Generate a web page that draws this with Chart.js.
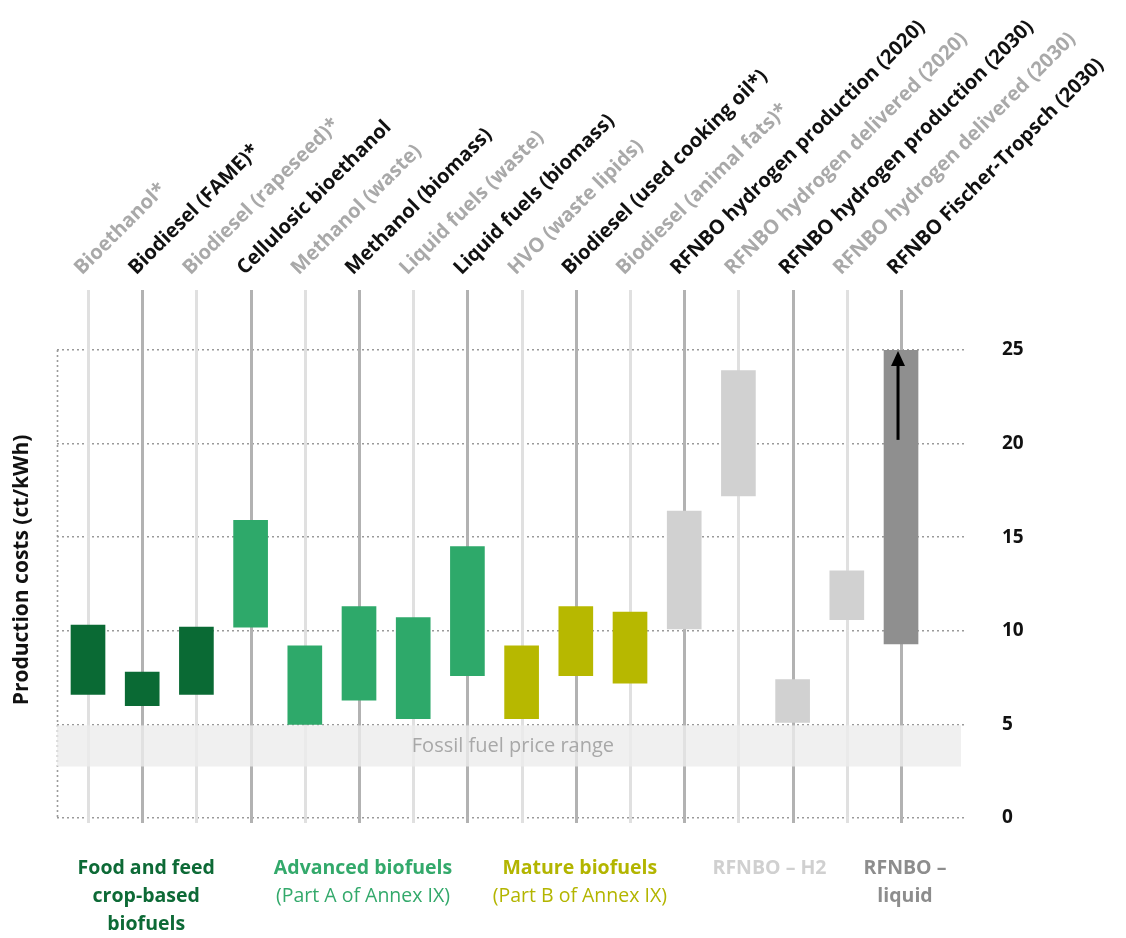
<!DOCTYPE html>
<html>
<head>
<meta charset="utf-8">
<script src="https://cdn.jsdelivr.net/npm/chart.js@4.4.1/dist/chart.umd.min.js"></script>
<style>
  html, body { margin: 0; padding: 0; background: #ffffff; }
  #wrap { width: 1126px; height: 938px; }
</style>
</head>
<body>
<div id="wrap"><canvas id="costs" width="1126" height="938"></canvas></div>
<script>
// Fuel pathways, one column each
const categories = [
  'Bioethanol*',
  'Biodiesel (FAME)*',
  'Biodiesel (rapeseed)*',
  'Cellulosic bioethanol',
  'Methanol (waste)',
  'Methanol (biomass)',
  'Liquid fuels (waste)',
  'Liquid fuels (biomass)',
  'HVO (waste lipids)',
  'Biodiesel (used cooking oil*)',
  'Biodiesel (animal fats)*',
  'RFNBO hydrogen production (2020)',
  'RFNBO hydrogen delivered (2020)',
  'RFNBO hydrogen production (2030)',
  'RFNBO hydrogen delivered (2030)',
  'RFNBO Fischer-Tropsch (2030)'
];

// Production cost ranges, ct/kWh
const lowCost  = [6.6, 6.0, 6.6, 10.2, 5.0, 6.3, 5.3, 7.6, 5.3, 7.6, 7.2, 10.1, 17.2, 5.1, 10.6, 9.3];
const highCost = [10.3, 7.8, 10.2, 15.9, 9.2, 11.3, 10.7, 14.5, 9.2, 11.3, 11.0, 16.4, 23.9, 7.4, 13.2, 25.0];

// Which fuel group each pathway belongs to
const groupOf = [0, 0, 0, 1, 1, 1, 1, 1, 2, 2, 2, 3, 3, 3, 3, 4];

// Pathway names printed in black (the others are grey)
const emphasised = [false, true, false, true, false, true, false, true, false, true, false, true, false, true, false, true];

// Fuel groups
const groupTitles = [
  ['Food and feed', 'crop-based', 'biofuels'],
  ['Advanced biofuels', '(Part A of Annex IX)'],
  ['Mature biofuels', '(Part B of Annex IX)'],
  ['RFNBO – H2'],
  ['RFNBO –', 'liquid']
];
const groupTitleBold = [
  [true, true, true],
  [true, false],
  [true, false],
  [true],
  [true, true]
];
const groupBarColors  = ['#0a6a34', '#2ea96a', '#b7b800', '#d1d1d1', '#8f8f8f'];
const groupTextColors = ['#0d6a36', '#33a96b', '#b3b500', '#d0d0d0', '#8d8d8d'];

// Value axis
const yTicks = [0, 5, 10, 15, 20, 25];
const yTitle = 'Production costs (ct/kWh)';

// Fossil fuel price range, ct/kWh
const fossilRange = [2.75, 5];
const fossilLabel = 'Fossil fuel price range';

// Upward arrow inside the Fischer-Tropsch bar (from, to), ct/kWh
const ftArrow = [20.2, 25];

const FONT = "'Open Sans', 'DejaVu Sans', sans-serif";

const points = categories.map((_, i) => ({ x: i, y: [lowCost[i], highCost[i]] }));

const backdrop = {
  id: 'backdrop',
  beforeDatasetsDraw(chart) {
    const { ctx, chartArea: a, scales: { x, y } } = chart;
    ctx.save();
    // pathway guide lines
    categories.forEach((_, i) => {
      const px = Math.round(x.getPixelForValue(i)) + 0.5;
      ctx.beginPath();
      ctx.moveTo(px, a.top - 60);
      ctx.lineTo(px, a.bottom + 5);
      ctx.lineWidth = 3;
      ctx.strokeStyle = emphasised[i] ? '#b2b2b2' : '#e0e0e0';
      ctx.stroke();
    });
    // left dotted frame line
    ctx.beginPath();
    ctx.setLineDash([2, 3]);
    ctx.moveTo(a.left + 0.5, y.getPixelForValue(25));
    ctx.lineTo(a.left + 0.5, y.getPixelForValue(0));
    ctx.lineWidth = 1.6;
    ctx.strokeStyle = '#9a9a9a';
    ctx.stroke();
    ctx.setLineDash([]);
    // fossil fuel band
    const yTop = y.getPixelForValue(fossilRange[1]) + 1;
    const yBot = y.getPixelForValue(fossilRange[0]);
    ctx.fillStyle = 'rgba(236,236,236,0.8)';
    ctx.fillRect(a.left, yTop, a.right - a.left - 3, yBot - yTop);
    ctx.font = '20px ' + FONT;
    ctx.fillStyle = '#a8a8a8';
    ctx.textAlign = 'center';
    ctx.textBaseline = 'middle';
    ctx.fillText(fossilLabel, x.getPixelForValue(7.84), (yTop + yBot) / 2);
    ctx.restore();
  },
  afterDatasetsDraw(chart) {
    const { ctx, scales: { x, y } } = chart;
    const px = x.getPixelForValue(15) - 3;
    const y0 = y.getPixelForValue(ftArrow[0]);
    const y1 = y.getPixelForValue(ftArrow[1]);
    ctx.save();
    ctx.strokeStyle = '#000';
    ctx.fillStyle = '#000';
    ctx.lineWidth = 3;
    ctx.beginPath();
    ctx.moveTo(px, y0);
    ctx.lineTo(px, y1 + 12);
    ctx.stroke();
    ctx.beginPath();
    ctx.moveTo(px, y1 + 1);
    ctx.lineTo(px - 7, y1 + 16);
    ctx.lineTo(px + 7, y1 + 16);
    ctx.closePath();
    ctx.fill();
    ctx.restore();
  },
  afterDraw(chart) {
    const { ctx, chartArea: a, scales: { x } } = chart;
    ctx.save();
    // value axis title
    ctx.translate(22, (a.top + a.bottom) / 2 - 14);
    ctx.rotate(-Math.PI / 2);
    ctx.font = 'bold 21px ' + FONT;
    ctx.fillStyle = '#111';
    ctx.textAlign = 'center';
    ctx.textBaseline = 'middle';
    ctx.fillText(yTitle, 0, 0);
    ctx.restore();

    // fuel group captions under the columns
    ctx.save();
    ctx.textAlign = 'center';
    ctx.textBaseline = 'middle';
    groupTitles.forEach((lines, g) => {
      const idx = groupOf.map((v, i) => (v === g ? i : -1)).filter(i => i >= 0);
      const cx = (x.getPixelForValue(idx[0]) + x.getPixelForValue(idx[idx.length - 1])) / 2 + 4;
      lines.forEach((t, k) => {
        ctx.font = (groupTitleBold[g][k] ? 'bold ' : '') + '19.5px ' + FONT;
        ctx.fillStyle = groupTextColors[g];
        ctx.fillText(t, cx, a.bottom + 50 + k * 28);
      });
    });
    ctx.restore();
  }
};

new Chart(document.getElementById('costs'), {
  type: 'bar',
  data: {
    datasets: [{
      data: points,
      backgroundColor: groupOf.map(g => groupBarColors[g]),
      borderWidth: 0,
      barThickness: 34
    }]
  },
  options: {
    responsive: false,
    animation: false,
    devicePixelRatio: 1,
    layout: { padding: { left: 57, right: 0, top: 0, bottom: 120 } },
    plugins: { legend: { display: false }, tooltip: { enabled: false } },
    scales: {
      x: {
        type: 'linear',
        position: 'top',
        offset: false,
        min: -0.572,
        max: 16.162,
        grid: { display: false, drawTicks: false, offset: false },
        border: { display: false },
        afterBuildTicks(scale) {
          scale.ticks = categories.map((_, i) => ({ value: i }));
        },
        afterFit(scale) {
          scale.height = 350;
          scale.paddingLeft = 0;
          scale.paddingRight = 0;
        },
        ticks: {
          autoSkip: false,
          minRotation: 45,
          maxRotation: 45,
          padding: 70,
          labelOffset: 7,
          font: { family: FONT, size: 20, weight: 'bold' },
          color: ctx => (emphasised[ctx.index] ? '#111111' : '#a9a9a9'),
          callback: (v) => categories[v]
        }
      },
      y: {
        type: 'linear',
        position: 'right',
        min: 0,
        max: 25,
        afterBuildTicks(scale) {
          scale.ticks = yTicks.map(v => ({ value: v }));
        },
        afterFit(scale) {
          scale.width = 162;
        },
        grid: { color: '#9a9a9a', lineWidth: 1.6, drawTicks: false },
        border: { display: false, dash: [2, 3] },
        ticks: {
          padding: 38,
          font: { family: FONT, size: 19, weight: 'bold' },
          color: '#111111'
        }
      }
    }
  },
  plugins: [backdrop]
});
</script>
</body>
</html>
